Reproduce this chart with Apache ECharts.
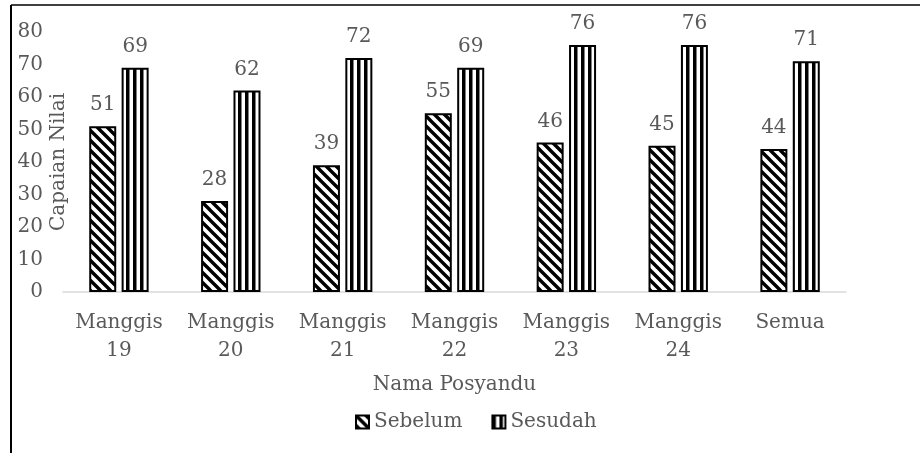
<!DOCTYPE html>
<html>
<head>
<meta charset="utf-8">
<script src="https://cdn.jsdelivr.net/npm/echarts@6/dist/echarts.min.js"></script>
<style>
  html, body { margin: 0; padding: 0; background: #fff; }
  #chart { width: 920px; height: 453px; }
</style>
</head>
<body>
<div id="chart"></div>
<script>
// Posyandu names and scores before/after
const categories = ['Manggis\n19', 'Manggis\n20', 'Manggis\n21', 'Manggis\n22', 'Manggis\n23', 'Manggis\n24', 'Semua'];
const sebelum = [51, 28, 39, 55, 46, 45, 44];
const sesudah = [69, 62, 72, 69, 76, 76, 71];
const yTicks = { min: 0, max: 80, interval: 10 };

const FONT = 'DejaVu Serif';
const TEXT = '#595959';
const FS = 20;

// Diagonal "\" hatch on white
function diagPattern() {
  const s = 10;
  const c = document.createElement('canvas');
  c.width = s; c.height = s;
  const g = c.getContext('2d');
  g.fillStyle = '#fff';
  g.fillRect(0, 0, s, s);
  g.strokeStyle = '#000';
  g.lineWidth = 3.4;
  g.beginPath();
  g.moveTo(-3, -3); g.lineTo(s + 3, s + 3);
  g.moveTo(-3, s - 3); g.lineTo(3, s + 3);
  g.moveTo(s - 3, -3); g.lineTo(s + 3, 3);
  g.stroke();
  return c;
}

// Vertical black/white stripes
function vertPattern() {
  const c = document.createElement('canvas');
  c.width = 7; c.height = 4;
  const g = c.getContext('2d');
  g.fillStyle = '#fff';
  g.fillRect(0, 0, 7, 4);
  g.fillStyle = '#000';
  g.fillRect(0, 0, 3.5, 4);
  return c;
}

const diag = { image: diagPattern(), repeat: 'repeat' };
const vert = { image: vertPattern(), repeat: 'repeat' };

const labelStyle = {
  show: true,
  position: 'top',
  distance: 11,
  color: TEXT,
  fontFamily: FONT,
  fontSize: FS
};

const chart = echarts.init(document.getElementById('chart'), null, { renderer: 'canvas' });
chart.setOption({
  backgroundColor: '#fff',
  animation: false,
  grid: { left: 63, right: 74, top: 32, bottom: 161 },
  graphic: [
    { type: 'line', shape: { x1: 11, y1: 5, x2: 920, y2: 5 }, style: { stroke: '#000', lineWidth: 1.5 } },
    { type: 'line', shape: { x1: 11, y1: 5, x2: 11, y2: 453 }, style: { stroke: '#000', lineWidth: 2 } }
  ],
  legend: {
    left: 350,
    top: 407,
    itemWidth: 13,
    itemHeight: 13,
    itemGap: 29,
    icon: 'rect',
    textStyle: { color: TEXT, fontFamily: FONT, fontSize: FS, padding: [0, 0, 0, 0] },
    data: ['Sebelum', 'Sesudah']
  },
  xAxis: {
    type: 'category',
    data: categories,
    name: 'Nama Posyandu',
    nameLocation: 'middle',
    nameGap: 83,
    nameTextStyle: { color: TEXT, fontFamily: FONT, fontSize: FS },
    axisLine: { lineStyle: { color: '#d9d9d9', width: 1.5 } },
    axisTick: { show: false },
    axisLabel: { color: TEXT, fontFamily: FONT, fontSize: FS, lineHeight: 28, margin: 17, interval: 0 }
  },
  yAxis: {
    type: 'value',
    min: yTicks.min,
    max: yTicks.max,
    interval: yTicks.interval,
    name: 'Capaian Nilai',
    nameLocation: 'middle',
    nameGap: -6,
    nameMoveOverlap: false,
    nameTextStyle: { color: TEXT, fontFamily: FONT, fontSize: FS },
    axisLine: { show: false },
    axisTick: { show: false },
    splitLine: { show: false },
    axisLabel: { color: TEXT, fontFamily: FONT, fontSize: FS, margin: 20 }
  },
  series: [
    {
      name: 'Sebelum',
      type: 'bar',
      data: sebelum,
      barWidth: 27,
      barGap: '20%',
      itemStyle: { color: diag, borderColor: '#000', borderWidth: 2 },
      label: labelStyle
    },
    {
      name: 'Sesudah',
      type: 'bar',
      data: sesudah,
      barWidth: 27,
      itemStyle: { color: vert, borderColor: '#000', borderWidth: 2 },
      label: labelStyle
    }
  ]
});
</script>
</body>
</html>
